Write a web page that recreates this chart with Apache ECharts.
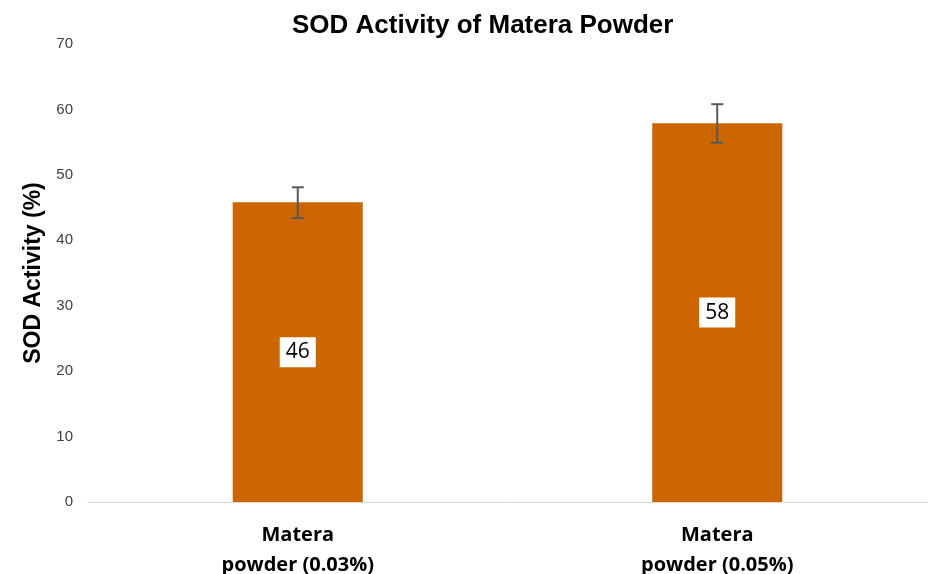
<!DOCTYPE html>
<html><head><meta charset="utf-8">
<script src="https://cdn.jsdelivr.net/npm/echarts@6/dist/echarts.min.js"></script>
<style>html,body{margin:0;padding:0;background:#fff}#c{width:935px;height:574px}</style>
</head><body><div id="c"></div>
<script>
const categories = ['Matera\npowder (0.03%)', 'Matera\npowder (0.05%)'];
const values = [45.8, 57.9];
const errLow = [43.4, 54.9];
const errHigh = [48.1, 60.8];
const labels = ['46', '58'];
const yTicks = [0, 10, 20, 30, 40, 50, 60, 70];

const chart = echarts.init(document.getElementById('c'));
chart.setOption({
  animation: false,
  title: {
    text: 'SOD Activity of Matera Powder', left: 287, top: 8,
    textStyle: { fontFamily: 'Liberation Sans', fontWeight: 'bold', fontSize: 26, color: '#000' }
  },
  grid: { left: 88, right: 8, top: 44, bottom: 72, outerBoundsMode: 'none', containLabel: false },
  xAxis: {
    type: 'category', data: categories,
    axisLine: { lineStyle: { color: '#d9d9d9', width: 1 } },
    axisTick: { show: false },
    axisLabel: { fontFamily: 'Open Sans', fontWeight: 'bold', fontSize: 20, color: '#000', lineHeight: 30, margin: 18 }
  },
  yAxis: {
    type: 'value', min: yTicks[0], max: yTicks[yTicks.length - 1], interval: 10,
    name: 'SOD Activity (%)', nameLocation: 'middle', nameGap: 42,
    nameTextStyle: { fontFamily: 'Liberation Sans', fontWeight: 'bold', fontSize: 23, color: '#000' },
    axisLine: { show: false }, axisTick: { show: false },
    splitLine: { show: false },
    axisLabel: { fontFamily: 'Liberation Sans', fontSize: 15, color: '#404040', margin: 15 }
  },
  series: [
    {
      type: 'bar', data: values, barWidth: '31%',
      itemStyle: { color: '#CC6600' },
      label: {
        show: true, position: 'inside',
        formatter: p => labels[p.dataIndex],
        fontFamily: 'Open Sans', fontSize: 21, color: '#000',
        backgroundColor: '#fff', padding: [6, 6, 3, 6]
      }
    },
    {
      type: 'custom', z: 10,
      data: errLow.map((l, i) => [i, l, errHigh[i]]),
      renderItem: function (params, api) {
        const x = api.coord([api.value(0), api.value(1)])[0];
        const yl = api.coord([api.value(0), api.value(1)])[1];
        const yh = api.coord([api.value(0), api.value(2)])[1];
        const w = 6;
        const st = { stroke: '#595959', lineWidth: 2 };
        return {
          type: 'group', children: [
            { type: 'line', shape: { x1: x, y1: yl, x2: x, y2: yh }, style: st },
            { type: 'line', shape: { x1: x - w, y1: yl, x2: x + w, y2: yl }, style: st },
            { type: 'line', shape: { x1: x - w, y1: yh, x2: x + w, y2: yh }, style: st }
          ]
        };
      }
    }
  ]
});
</script></body></html>
